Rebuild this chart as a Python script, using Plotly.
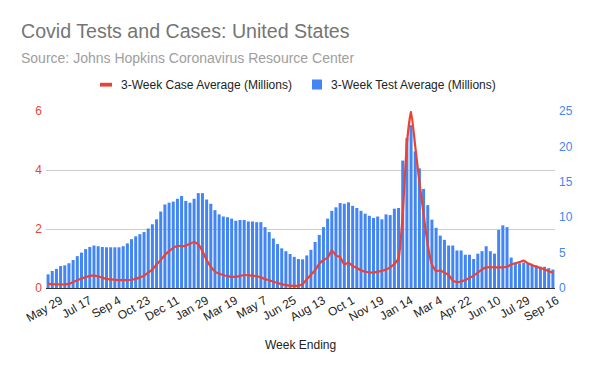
import pandas as pd
import plotly.graph_objects as go

# ---- data ----
# weekly "week ending" dates; one week (2021-12-31) is absent in the source data
weeks = [d.strftime("%Y-%m-%d") for d in pd.date_range("2020-05-15", "2022-09-16", freq="7D")
         if d.strftime("%Y-%m-%d") != "2021-12-31"]

tick_labels = ["May 29", "Jul 17", "Sep 4", "Oct 23", "Dec 11", "Jan 29", "Mar 19", "May 7",
               "Jun 25", "Aug 13", "Oct 1", "Nov 19", "Jan 14", "Mar 4", "Apr 22", "Jun 10",
               "Jul 29", "Sep 16"]

# 3-week test average (millions) - right axis
tests = [1.93, 2.4, 2.7, 3.1, 3.2, 3.5, 3.95, 4.5, 5.0, 5.5, 5.8, 6.0, 5.9, 5.8, 5.75, 5.75, 5.75, 5.75, 5.9, 6.3, 6.9,
         7.3, 7.6, 7.9, 8.4, 9.0, 9.7, 10.8, 11.8, 12.05, 12.2, 12.6, 13.0, 12.3, 12.05, 12.6, 13.4, 13.4, 12.5, 11.9, 11.0,
         10.4, 10.1, 10.0, 9.8, 9.5, 9.6, 9.6, 9.4, 9.4, 9.3, 9.3, 8.6, 7.9, 7.0, 6.2, 5.6, 5.2, 4.8, 4.4, 4.1,
         4.05, 4.6, 5.4, 6.5, 7.5, 8.6, 9.8, 10.9, 11.4, 12.0, 11.9, 12.1, 11.6, 11.3, 10.9, 10.5, 10.2, 9.9, 10.1, 9.7,
         10.4, 10.3, 11.2, 11.3,
         18.0, 21.2, 23.0, 19.3, 16.9, 14.0, 11.7, 9.65, 8.5, 7.4, 6.8, 6.0, 6.0, 5.3, 5.3, 4.7, 4.7, 4.1, 4.85, 5.2,
         5.9, 5.2, 4.85, 8.2, 8.85, 8.6,
         4.3, 3.6, 3.5, 3.6, 3.5, 3.2, 3.2, 3.0, 3.0, 2.8, 2.6]

# 3-week case average (millions) - left axis
cases = [0.14, 0.13, 0.12, 0.12, 0.12, 0.14, 0.2, 0.26, 0.32, 0.37, 0.41, 0.42, 0.39, 0.35, 0.31, 0.29,
         0.28, 0.27, 0.27, 0.27, 0.28, 0.31, 0.36, 0.42, 0.52, 0.63, 0.8, 0.95, 1.12, 1.25, 1.36, 1.43, 1.42, 1.43,
         1.5, 1.56, 1.48, 1.25, 0.95, 0.72, 0.56, 0.48, 0.44, 0.40, 0.38, 0.38, 0.41, 0.44, 0.43, 0.42,
         0.40, 0.36, 0.30, 0.26, 0.21, 0.17, 0.13, 0.1, 0.08, 0.07, 0.08, 0.13,
         0.3, 0.45, 0.6, 0.82, 0.95, 1.02, 1.28, 1.1, 1.05, 0.8, 0.86, 0.75, 0.68, 0.6, 0.55, 0.53, 0.52, 0.55, 0.58, 0.63,
         0.7, 0.82, 1.0, 2.5, 4.9, 6.0, 4.8, 3.6, 2.5, 1.45, 0.8, 0.57, 0.6, 0.52, 0.45, 0.25, 0.2, 0.22, 0.27, 0.34,
         0.42, 0.52, 0.63, 0.7, 0.71, 0.7, 0.7, 0.7, 0.72, 0.8, 0.84, 0.88, 0.93, 0.84, 0.78, 0.72, 0.68, 0.63, 0.57, 0.52]

case_name = "3-Week Case Average (Millions)"
test_name = "3-Week Test Average (Millions)"
title = "Covid Tests and Cases: United States"
subtitle = "Source: Johns Hopkins Coronavirus Resource Center"
x_title = "Week Ending"

RED = "#EA4335"
BLUE = "#4285F4"
FONT = "Liberation Sans, Arial, sans-serif"

W, H = 600, 371
L, R, T, B = 46, 45, 111, 83
PW, PH = W - L - R, H - T - B


def px(x):
    return (x - L) / PW


def py(y):
    return (H - B - y) / PH


fig = go.Figure()
fig.add_trace(go.Bar(x=weeks, y=tests, name=test_name, marker_color=BLUE, marker_line_width=0,
                     yaxis="y"))
fig.add_trace(go.Scatter(x=weeks, y=cases, name=case_name, mode="lines",
                         line=dict(color=RED, width=2.2, shape="spline", smoothing=0.4),
                         yaxis="y2"))

fig.update_layout(
    template="none",
    width=W, height=H,
    margin=dict(l=L, r=R, t=T, b=B, pad=0, autoexpand=False),
    paper_bgcolor="white", plot_bgcolor="white",
    font=dict(family=FONT, size=12, color="#222222"),
    showlegend=False,
    bargap=0.28,
    xaxis=dict(type="category", range=[-0.5, len(weeks) - 0.5], automargin=False,
               tickmode="array", tickvals=weeks[2::7], ticktext=tick_labels,
               tickangle=-30, tickfont=dict(size=12, color="#222222"), ticklabelshift=4,
               showline=True, linecolor="#333333", linewidth=1,
               showgrid=False, ticks="", zeroline=False),
    yaxis=dict(side="right", range=[0, 25], tickvals=[0, 5, 10, 15, 20, 25], automargin=False,
               showgrid=False, zeroline=False, ticks="", showline=False, ticklabelstandoff=3,
               tickfont=dict(size=12, color=BLUE)),
    yaxis2=dict(side="left", overlaying="y", range=[0, 6], tickvals=[0, 2, 4, 6], automargin=False,
                showgrid=True, gridcolor="#cccccc", gridwidth=1, zeroline=False, ticks="", showline=False,
                ticklabelstandoff=3, tickfont=dict(size=12, color=RED)),
)

# title / subtitle
fig.add_annotation(text=title, xref="paper", yref="paper", x=px(19), y=py(31), xanchor="left",
                   yanchor="middle", showarrow=False, font=dict(size=19.6, color="#757575"))
fig.add_annotation(text=subtitle, xref="paper", yref="paper", x=px(19), y=py(58), xanchor="left",
                   yanchor="middle", showarrow=False, font=dict(size=14, color="#9e9e9e"))

# x-axis title
fig.add_annotation(text=x_title, xref="paper", yref="paper", x=px(300), y=py(345), xanchor="center",
                   yanchor="middle", showarrow=False, font=dict(size=12, color="#222222"))

# legend
fig.add_shape(type="rect", xref="paper", yref="paper", x0=px(100), x1=px(112), y0=py(82.8), y1=py(86.6),
              fillcolor=RED, line_width=0)
fig.add_annotation(text=case_name, xref="paper", yref="paper", x=px(119), y=py(84.5), xanchor="left",
                   yanchor="middle", showarrow=False, font=dict(size=12, color="#222222"))
fig.add_shape(type="rect", xref="paper", yref="paper", x0=px(312), x1=px(322), y0=py(79.5), y1=py(89.5),
              fillcolor=BLUE, line_width=0)
fig.add_annotation(text=test_name, xref="paper", yref="paper", x=px(329), y=py(84.5), xanchor="left",
                   yanchor="middle", showarrow=False, font=dict(size=12, color="#222222"))

fig.write_html("out.html", config={"displayModeBar": False},
               post_script="document.body.style.margin='0px';")
